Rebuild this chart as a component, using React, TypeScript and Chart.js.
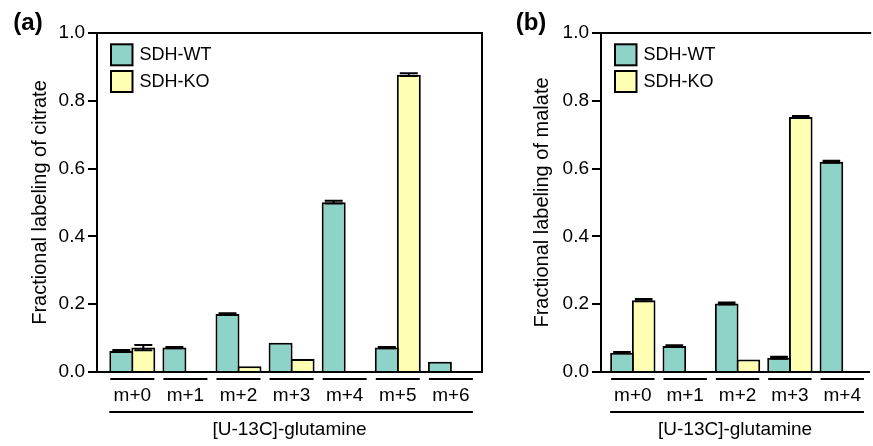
import React, { useEffect, useRef } from 'react';
import { Chart, registerables } from 'chart.js';

Chart.register(...registerables);

const FONT = '"Liberation Sans", Arial, Helvetica, sans-serif';

// ---- data ----
const seriesNames = ['SDH-WT', 'SDH-KO'];
const seriesColors = ['#8DD3C7', '#FFFFB3'];
const xTitle = '[U-13C]-glutamine';

const citrateLabels = ['m+0', 'm+1', 'm+2', 'm+3', 'm+4', 'm+5', 'm+6'];
const citrateWT = [0.062, 0.072, 0.171, 0.086, 0.501, 0.072, 0.030];
const citrateWTErr = [0.003, 0.002, 0.0025, 0, 0.004, 0.002, 0];
const citrateKO = [0.072, null, 0.017, 0.038, null, 0.877, null];
const citrateKOErr = [0.008, 0, 0, 0, 0, 0.004, 0];

const malateLabels = ['m+0', 'm+1', 'm+2', 'm+3', 'm+4'];
const malateWT = [0.057, 0.077, 0.202, 0.042, 0.620];
const malateWTErr = [0.002, 0.002, 0.003, 0.003, 0.003];
const malateKO = [0.212, null, 0.037, 0.752, null];
const malateKOErr = [0.003, 0, 0, 0.003, 0];

const yMin = 0;
const yMax = 1;
const yStep = 0.2;

type Spec = {
  tag: string;
  labels: string[];
  wt: (number | null)[];
  wtErr: number[];
  ko: (number | null)[];
  koErr: number[];
  yTitle: string;
  left: number;
  width: number;
  axisLeft: number;
  padRight: number;
  xMin: number;
  xMax: number;
  yTitlePad: number;
  tagX: number;
  rightBorder: boolean;
};

const CAT_PCT = 0.829;

const specs: Spec[] = [
  {
    tag: '(a)', labels: citrateLabels, wt: citrateWT, wtErr: citrateWTErr, ko: citrateKO, koErr: citrateKOErr,
    yTitle: 'Fractional labeling of citrate', left: 0, width: 490, axisLeft: 97, padRight: 8,
    xMin: -0.665, xMax: 6.586, yTitlePad: 28.6, tagX: 28, rightBorder: true,
  },
  {
    tag: '(b)', labels: malateLabels, wt: malateWT, wtErr: malateWTErr, ko: malateKO, koErr: malateKOErr,
    yTitle: 'Fractional labeling of malate', left: 490, width: 383, axisLeft: 111, padRight: 0,
    xMin: -0.608, xMax: 4.514, yTitlePad: 40, tagX: 41, rightBorder: false,
  },
];

function makeDecor(spec: Spec) {
  return {
    id: 'decor' + spec.tag,
    afterDatasetsDraw(chart: any) {
      const ctx = chart.ctx;
      const y = chart.scales.y;
      const errs = [spec.wtErr, spec.koErr];
      const vals = [spec.wt, spec.ko];
      ctx.save();
      ctx.strokeStyle = '#000';
      ctx.lineWidth = 2;
      for (let d = 0; d < 2; d++) {
        const meta = chart.getDatasetMeta(d);
        meta.data.forEach((el: any, i: number) => {
          const v = vals[d][i];
          const e = errs[d][i];
          if (v == null || !e) return;
          const yt = y.getPixelForValue(v + e);
          const yb = y.getPixelForValue(v - e);
          const half = el.width / 2 - 3;
          ctx.beginPath();
          ctx.moveTo(el.x, yb);
          ctx.lineTo(el.x, yt);
          ctx.moveTo(el.x - half, yt);
          ctx.lineTo(el.x + half, yt);
          ctx.moveTo(el.x - half, yb);
          ctx.lineTo(el.x + half, yb);
          ctx.stroke();
        });
      }
      ctx.restore();
    },
    afterDraw(chart: any) {
      const ctx = chart.ctx;
      const area = chart.chartArea;
      const x = chart.scales.x;
      ctx.save();
      ctx.strokeStyle = '#000';
      ctx.lineWidth = 2;
      // frame: top and right
      ctx.beginPath();
      ctx.moveTo(area.left - 1, area.top);
      ctx.lineTo(area.right + (spec.rightBorder ? 0 : 2), area.top);
      if (spec.rightBorder) {
        ctx.lineTo(area.right, area.bottom);
      }
      ctx.stroke();
      // category underlines
      const step = x.getPixelForValue(1) - x.getPixelForValue(0);
      const half = (step * CAT_PCT) / 2;
      ctx.beginPath();
      spec.labels.forEach((_, i) => {
        const c = x.getPixelForValue(i);
        ctx.moveTo(c - half, area.bottom + 7);
        ctx.lineTo(c + half, area.bottom + 7);
      });
      ctx.moveTo(x.getPixelForValue(0) - half - 1, area.bottom + 40);
      ctx.lineTo(x.getPixelForValue(spec.labels.length - 1) + half, area.bottom + 40);
      ctx.stroke();
      // legend
      const bx = area.left + 14;
      ctx.font = `18px ${FONT}`;
      ctx.textBaseline = 'middle';
      ctx.textAlign = 'left';
      seriesNames.forEach((name, k) => {
        const by = area.top + 11.3 + k * 26.7;
        ctx.fillStyle = seriesColors[k];
        ctx.fillRect(bx, by, 21.5, 21);
        ctx.strokeRect(bx, by, 21.5, 21);
        ctx.fillStyle = '#000';
        ctx.fillText(name, bx + 28.5, by + 11);
      });
      // panel tag
      ctx.font = `bold 24px ${FONT}`;
      ctx.textAlign = 'center';
      ctx.fillText(spec.tag, spec.tagX, 23);
      ctx.restore();
    },
  };
}

function Panel({ spec }: { spec: Spec }) {
  const ref = useRef<HTMLCanvasElement>(null);
  useEffect(() => {
    if (!ref.current) return;
    const toPts = (arr: (number | null)[]) => arr.map((v, i) => ({ x: i, y: v }));
    const chart = new Chart(ref.current, {
      type: 'bar',
      data: {
        datasets: [
          {
            label: seriesNames[0],
            data: toPts(spec.wt) as any,
            backgroundColor: seriesColors[0],
            borderColor: '#000',
            borderWidth: 2,
          },
          {
            label: seriesNames[1],
            data: toPts(spec.ko) as any,
            backgroundColor: seriesColors[1],
            borderColor: '#000',
            borderWidth: 2,
          },
        ],
      },
      options: {
        responsive: false,
        animation: false,
        events: [],
        devicePixelRatio: 1,
        categoryPercentage: CAT_PCT,
        barPercentage: 1.09,
        layout: { padding: { top: 33, right: spec.padRight, left: 0, bottom: 0 } },
        plugins: { legend: { display: false }, tooltip: { enabled: false } },
        scales: {
          x: {
            type: 'linear',
            offset: false,
            min: spec.xMin,
            max: spec.xMax,
            z: 1,
            afterBuildTicks: (scale: any) => {
              scale.ticks = spec.labels.map((_, i) => ({ value: i }));
            },
            afterFit: (scale: any) => {
              scale.height = 74;
            },
            ticks: {
              autoSkip: false,
              maxRotation: 0,
              padding: 12,
              color: '#000',
              font: { family: FONT, size: 19 },
              callback: (v: any) => spec.labels[v] ?? '',
            },
            grid: { display: false, drawTicks: false, tickLength: 0 },
            border: { display: true, color: '#000', width: 2 },
            title: {
              display: true,
              text: xTitle,
              color: '#000',
              font: { family: FONT, size: 19 },
              padding: { top: 0, bottom: 4.6 },
            },
          },
          y: {
            type: 'linear',
            min: yMin,
            max: yMax,
            z: 1,
            afterFit: (scale: any) => {
              scale.width = spec.axisLeft;
            },
            ticks: {
              stepSize: yStep,
              padding: 3,
              color: '#000',
              font: { family: FONT, size: 19 },
              callback: (v: any) => Number(v).toFixed(1),
            },
            grid: { drawOnChartArea: false, drawTicks: true, tickLength: 9, color: '#000', lineWidth: 2 },
            border: { display: true, color: '#000', width: 2 },
            title: {
              display: true,
              text: spec.yTitle,
              color: '#000',
              font: { family: FONT, size: 20 },
              padding: { top: spec.yTitlePad, bottom: 0 },
            },
          },
        },
      } as any,
      plugins: [makeDecor(spec)],
    });
    return () => chart.destroy();
  }, [spec]);
  return (
    <canvas
      ref={ref}
      width={spec.width}
      height={446}
      style={{ position: 'absolute', left: spec.left, top: 0, width: spec.width, height: 446 }}
    />
  );
}

export default function App() {
  return (
    <div style={{ position: 'absolute', left: 0, top: 0, width: 873, height: 446, background: '#fff', overflow: 'hidden' }}>
      {specs.map((s) => (
        <Panel key={s.tag} spec={s} />
      ))}
    </div>
  );
}
